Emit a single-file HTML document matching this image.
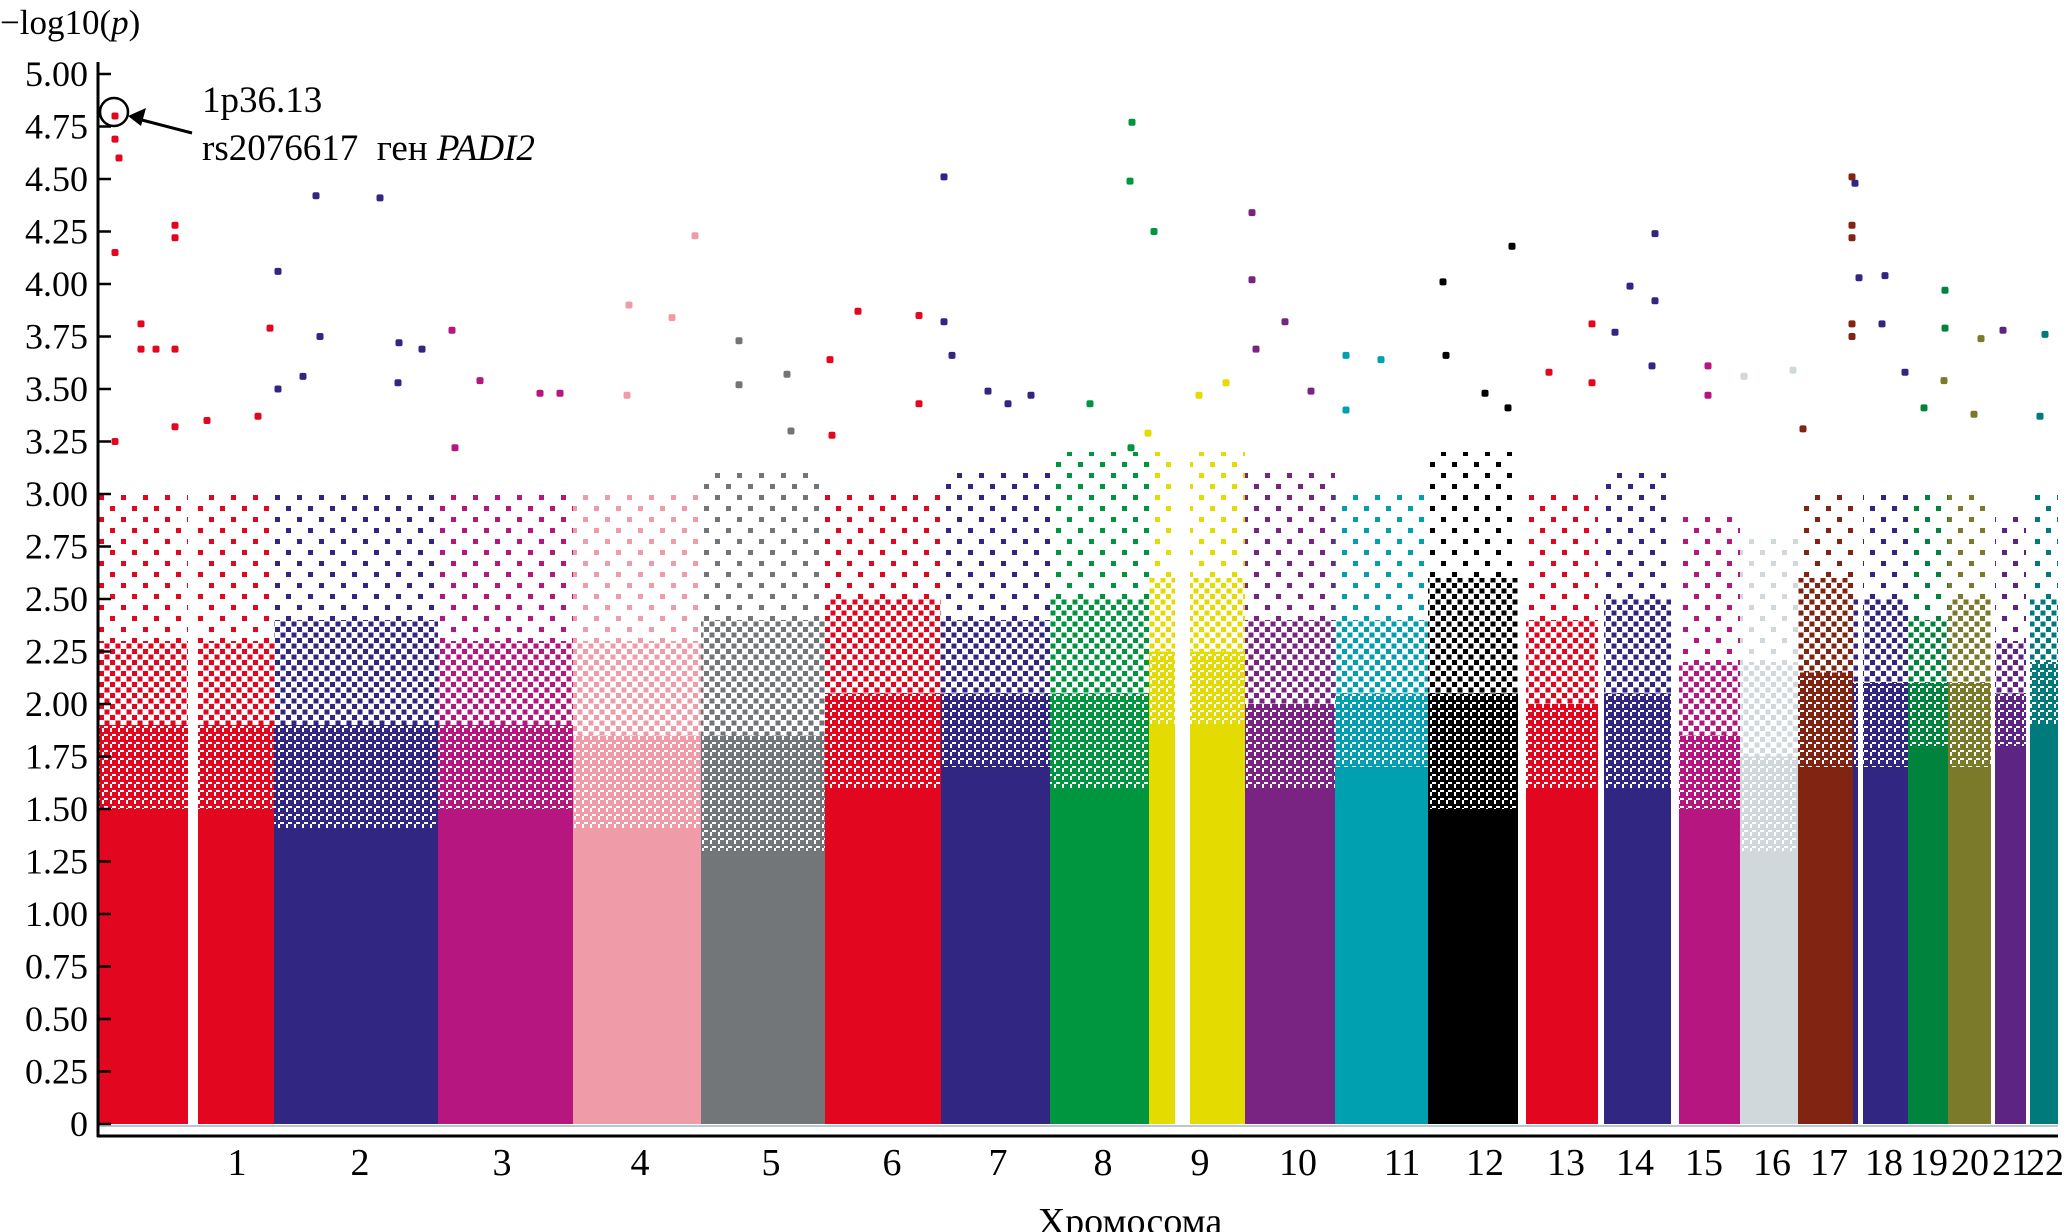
<!DOCTYPE html>
<html><head><meta charset="utf-8">
<style>
html,body{margin:0;padding:0;background:#fff;}
svg{display:block;}
text{font-family:"Liberation Serif","Noto Serif CJK SC",serif;fill:#000;}
</style></head>
<body>
<svg id="chart" width="2067" height="1232" viewBox="0 0 2067 1232" xmlns="http://www.w3.org/2000/svg">
<defs id="defs"></defs>
<text x="0" y="34" font-size="35">−log10(<tspan font-style="italic">p</tspan>)</text>
<g id="marks"></g>
<g id="axes"></g>
<g id="annotation">
<circle cx="114" cy="112" r="14" fill="none" stroke="#000" stroke-width="2.5"/>
<line x1="192" y1="133" x2="138" y2="119" stroke="#000" stroke-width="3"/>
<polygon points="128,116 146,108 141,126" fill="#000"/>
<text x="202" y="112" font-size="37">1p36.13</text>
<text x="202" y="160" font-size="37" xml:space="preserve">rs2076617  ген <tspan font-style="italic">PADI2</tspan></text>
</g>
<text x="1130" y="1234" font-size="38" text-anchor="middle">Хромосома</text>
</svg>
<script>
// chromosome extents in genome units
const chrNames = ["1","2","3","4","5","6","7","8","9","10","11","12","13","14","15","16","17","18","19","20","21","22"];
const chrStart = [0,175,339,474,602,726,842,951,1050,1146,1236,1329,1427,1505,1580,1641,1699,1754,1809,1849,1896,1931];
const chrEnd   = [175,339,474,602,726,842,951,1050,1146,1236,1329,1419,1499,1572,1641,1699,1754,1809,1849,1892,1927,1959];
const chrColor = ["#e2061f","#312783","#b5167f","#f09ca8","#737679","#e2061f","#312783","#009640","#e4dc00","#792482","#00a0b0","#000000","#e2061f","#312783","#b5167f","#d1d8dc","#822412","#312783","#00843d","#7a7a2a","#5e2483","#007a7a"];
const gapStart = [89,1076,1759];
const gapEnd   = [99,1091,1764];
// label positions (genome units)
const labelPos = [138,261,403,541,672,793,899,1004,1101,1199,1303,1386,1467,1536,1605,1673,1730,1785,1830,1871,1912,1946];
// -log10(p) levels
const solidTop = [1.5,1.4,1.5,1.4,1.3,1.6,1.7,1.6,1.9,1.6,1.7,1.5,1.6,1.6,1.5,1.3,1.7,1.7,1.8,1.7,1.8,1.9];
const denseTop = [2.3,2.4,2.3,2.3,2.4,2.5,2.4,2.5,2.6,2.4,2.4,2.6,2.4,2.5,2.2,2.2,2.6,2.5,2.4,2.5,2.3,2.5];
const sparseTop= [3.0,3.0,3.0,3.0,3.1,3.0,3.1,3.2,3.2,3.1,3.0,3.2,3.0,3.1,2.9,2.8,3.0,3.0,3.0,3.0,2.9,3.0];
// notable points: chromosome index, position (genome units), value
const pointChr = [0,0,0,0,0,0,0,0,0,0,0,0,0,0,0, 1,1,1,1,1,1,1,1,1, 2,2,2,2,2, 3,3,3,3, 4,4,4,4, 5,5,5,5,5, 6,6,6,6,6,6, 7,7,7,7,7, 8,8,8, 9,9,9,9,9, 10,10,10, 11,11,11,11,11, 12,12,12, 13,13,13,13,13, 14,14, 15,15, 16,16,16,16,16,16, 17,17,17,17,17, 18,18,18, 19,19,19, 20, 21,21];
const pointPos = [16,16,20,16,76,76,42,42,57,76,171,108,159,76,16, 179,217,281,221,300,323,204,299,179, 353,381,356,441,461, 530,573,596,528, 640,688,640,692, 759,731,820,820,733, 845,845,853,889,932,909, 1033,1031,1055,991,1032, 1100,1127,1049, 1153,1153,1186,1157,1212, 1247,1282,1247, 1344,1347,1413,1386,1409, 1493,1450,1493, 1556,1531,1556,1516,1553, 1609,1609, 1694,1645, 1753,1753,1753,1753,1753,1704, 1756,1786,1760,1783,1806, 1846,1846,1825, 1882,1845,1875, 1904, 1946,1941];
const pointVal = [4.80,4.69,4.60,4.15,4.28,4.22,3.81,3.69,3.69,3.69,3.79,3.35,3.37,3.32,3.25, 4.06,4.42,4.41,3.75,3.72,3.69,3.56,3.53,3.50, 3.78,3.54,3.22,3.48,3.48, 3.90,3.84,4.23,3.47, 3.73,3.57,3.52,3.30, 3.87,3.64,3.85,3.43,3.28, 4.51,3.82,3.66,3.49,3.47,3.43, 4.77,4.49,4.25,3.43,3.22, 3.47,3.53,3.29, 4.34,4.02,3.82,3.69,3.49, 3.66,3.64,3.40, 4.01,3.66,4.18,3.48,3.41, 3.81,3.58,3.53, 4.24,3.99,3.92,3.77,3.61, 3.61,3.47, 3.59,3.56, 4.51,4.28,4.22,3.81,3.75,3.31, 4.48,4.04,4.03,3.81,3.58, 3.97,3.79,3.41, 3.74,3.54,3.38, 3.78, 3.76,3.37];
const yTicks = [0,0.25,0.5,0.75,1,1.25,1.5,1.75,2,2.25,2.5,2.75,3,3.25,3.5,3.75,4,4.25,4.5,4.75,5];
const yTickLabels = ["0","0.25","0.50","0.75","1.00","1.25","1.50","1.75","2.00","2.25","2.50","2.75","3.00","3.25","3.50","3.75","4.00","4.25","4.50","4.75","5.00"];

const NS="http://www.w3.org/2000/svg";
const X0=99, Y0=1124, PXU=210;
const xs = u => X0 + u;
const ys = v => Y0 - v*PXU;
const marks=document.getElementById('marks'), axes=document.getElementById('axes'), defs=document.getElementById('defs');
function mk(tag, attrs, parent){const e=document.createElementNS(NS,tag);for(const k in attrs)e.setAttribute(k,attrs[k]);parent.appendChild(e);return e;}

function pattern(id,color,size,dot){
  const p=mk('pattern',{id:id,width:size,height:size,patternUnits:'userSpaceOnUse'},defs);
  mk('rect',{x:0,y:0,width:dot,height:dot,fill:color},p);
  mk('rect',{x:size/2,y:size/2,width:dot,height:dot,fill:color},p);
}
chrColor.forEach((c,i)=>{
  pattern('pd'+i,c,8,6);
  pattern('pm'+i,c,11,5);
  pattern('ps'+i,c,22,5);
});

for(let i=0;i<chrNames.length;i++){
  const x0=xs(chrStart[i]), w=xs(chrEnd[i])-x0;
  const layers=[[0,solidTop[i],chrColor[i],'solid'],
    [solidTop[i],(solidTop[i]+denseTop[i])/2,'url(#pd'+i+')','dense'],
    [(solidTop[i]+denseTop[i])/2,denseTop[i],'url(#pm'+i+')','medium'],
    [denseTop[i],sparseTop[i],'url(#ps'+i+')','sparse']];
  layers.forEach(l=>{
    const r=mk('rect',{x:x0,y:ys(l[1]),width:w,height:ys(l[0])-ys(l[1]),fill:l[2]},marks);
    
    
  });
}
for(let g=0;g<gapStart.length;g++){
  const r=mk('rect',{x:xs(gapStart[g]),y:ys(3.2),width:xs(gapEnd[g])-xs(gapStart[g]),height:ys(0)-ys(3.2)+1,fill:'#fff'},marks);
  
  
}
for(let k=0;k<pointVal.length;k++){
  const r=mk('rect',{x:xs(pointPos[k])-3.5,y:ys(pointVal[k])-3.5,width:7,height:7,rx:2,fill:chrColor[pointChr[k]]},marks);
  
  
}
mk('line',{x1:99,y1:1126,x2:2058,y2:1126,stroke:'#b8c8d0','stroke-width':2},axes);
const ya=mk('line',{x1:98,y1:62,x2:98,y2:1137,stroke:'#000','stroke-width':3},axes);


const xa=mk('line',{x1:97,y1:1136,x2:2058,y2:1136,stroke:'#000','stroke-width':3},axes);


yTicks.forEach((v,i)=>{
  const t=mk('line',{x1:98,y1:ys(v),x2:111,y2:ys(v),stroke:'#000','stroke-width':2.5},axes);
  
  
  const tx=mk('text',{x:88,y:ys(v)+12,'font-size':36,'text-anchor':'end'},axes);
  tx.textContent=yTickLabels[i];
  
  
});
chrNames.forEach((n,i)=>{
  const tx=mk('text',{x:xs(labelPos[i]),y:1175,'font-size':38,'text-anchor':'middle'},axes);
  tx.textContent=n;
  
  
});
</script>
</body></html>
